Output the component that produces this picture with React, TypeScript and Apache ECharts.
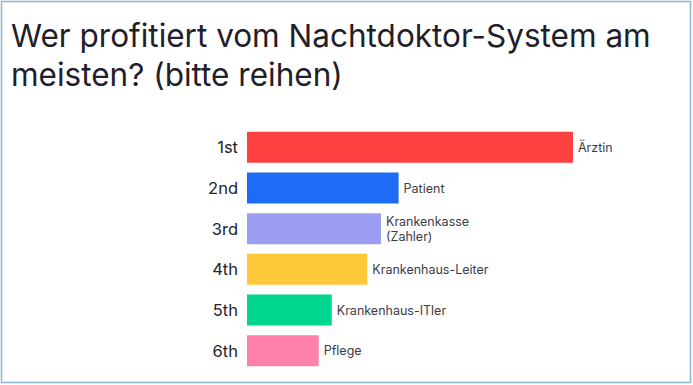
import React, { useEffect, useRef } from "react";
import * as echarts from "echarts";

const titleLines = ["Wer profitiert vom Nachtdoktor-System am", "meisten? (bitte reihen)"];
const ranks = ["1st", "2nd", "3rd", "4th", "5th", "6th"];
const options = ["Ärztin", "Patient", "Krankenkasse\n(Zahler)", "Krankenhaus-Leiter", "Krankenhaus-ITler", "Pflege"];
const scores = [100, 46.5, 41.1, 36.9, 26.0, 22.0];
const colors = ["#FF4141", "#1E6BF5", "#9B9EF2", "#FFC73A", "#00D68F", "#FF80A8"];

export default function App() {
  const ref = useRef<HTMLDivElement>(null);
  useEffect(() => {
    if (!ref.current) return;
    const chart = echarts.init(ref.current, null, { renderer: "svg" });
    chart.setOption({
      animation: false,
      backgroundColor: "#ffffff",
      title: {
        text: titleLines.join("\n"),
        left: 11,
        top: 16,
        padding: 0,
        textStyle: {
          fontFamily: "Inter",
          fontSize: 31.5,
          fontWeight: 400,
          lineHeight: 39,
          color: "#1f2029",
        },
      },
      graphic: [
        {
          type: "rect",
          shape: { x: 1.5, y: 1.5, width: 689, height: 381 },
          style: { fill: "none", stroke: "#8db6cf", lineWidth: 1.5 },
          silent: true,
        },
      ],
      grid: { left: 247, right: 120, top: 127, bottom: 14, containLabel: false },
      xAxis: {
        type: "value",
        min: 0,
        max: 100,
        show: false,
      },
      yAxis: {
        type: "category",
        inverse: true,
        data: ranks,
        axisLine: { show: false },
        axisTick: { show: false },
        splitLine: { show: false },
        axisLabel: {
          margin: 9,
          fontFamily: "Inter",
          fontSize: 16.5,
          color: "#23232d",
        },
      },
      series: [
        {
          type: "bar",
          barWidth: 31,
          data: scores.map((v, i) => ({
            value: v,
            itemStyle: { color: colors[i] },
            label: { formatter: options[i] },
          })),
          label: {
            show: true,
            position: "right",
            distance: 5,
            fontFamily: "Inter",
            fontSize: 12.5,
            lineHeight: 15,
            color: "#3c3c46",
          },
        },
      ],
    });
    return () => chart.dispose();
  }, []);
  return (
    <div
      ref={ref}
      style={{ position: "fixed", left: 0, top: 0, width: 693, height: 385 }}
    />
  );
}
